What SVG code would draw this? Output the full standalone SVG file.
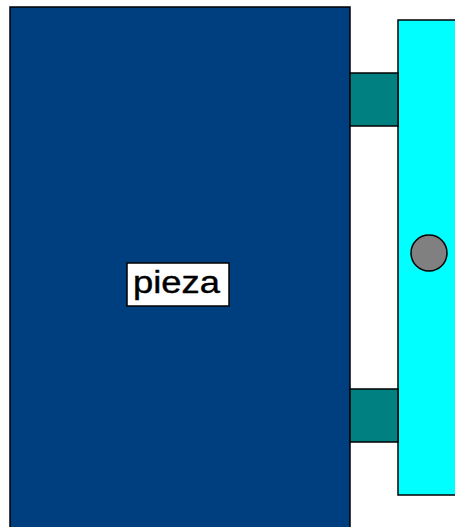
<svg xmlns="http://www.w3.org/2000/svg" width="455" height="527" viewBox="0 0 455 527">
<style>
.s{stroke:#000;stroke-width:1.5}
</style>
<rect width="455" height="527" fill="#fff"/>
<g id="pieza">
<rect class="s" x="10" y="7" width="340" height="530" fill="#003f7f"/>
<rect class="s" x="127" y="263" width="102" height="43" fill="#fff"/>
<text x="176.5" y="293" font-family="Liberation Sans, Arial, sans-serif" font-size="31" text-anchor="middle" textLength="87" lengthAdjust="spacingAndGlyphs" fill="#000" stroke="#000" stroke-width="0.4">pieza</text>
</g>
<g id="soporte">
<rect class="s" x="398" y="20" width="70" height="475" fill="#00ffff"/>
<circle class="s" cx="429" cy="253" r="18" fill="#808080"/>
</g>
<g id="conectores">
<rect class="s" x="350" y="73" width="48" height="53" fill="#008080"/>
<rect class="s" x="350" y="389" width="48" height="53" fill="#008080"/>
</g>
</svg>
